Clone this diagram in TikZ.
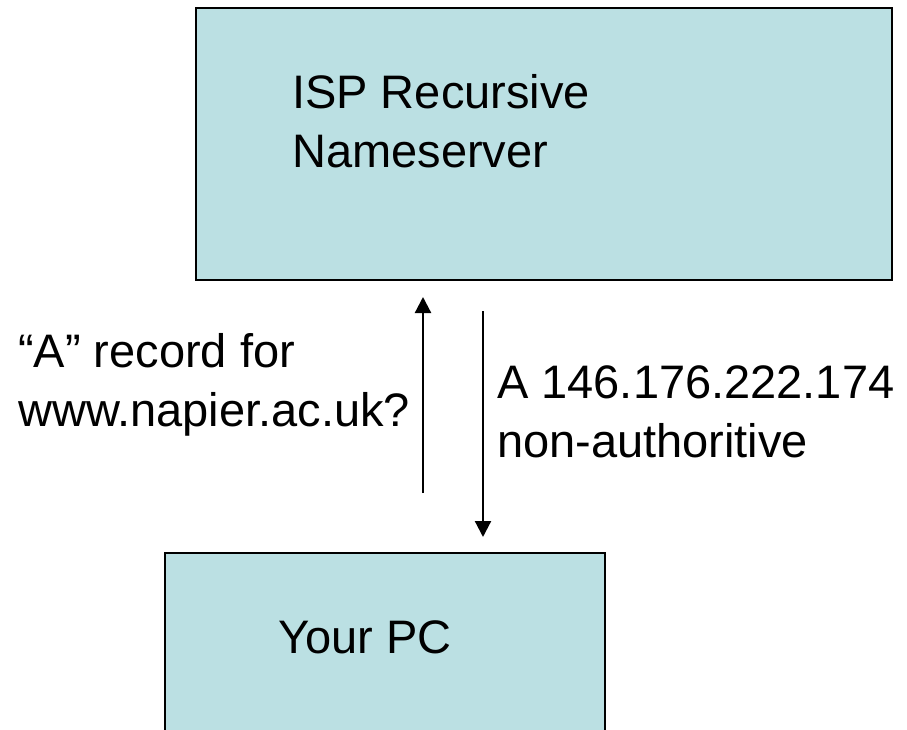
\documentclass[tikz,border=0pt]{standalone}
\usepackage{fontspec}
\setmainfont{Liberation Sans}
\usetikzlibrary{arrows.meta}
\definecolor{boxfill}{RGB}{187,224,227}
\tikzset{
  x=1pt, y=-1pt,
  box/.style={draw=black, line width=2.5pt, fill=boxfill, inner sep=0pt},
  txt/.style={inner sep=0pt, align=left, font=\fontsize{47}{59}\selectfont},
  msg/.style={line width=2.2pt, -{Triangle[length=16pt,width=16pt]}}
}
\begin{document}
\begin{tikzpicture}
  \useasboundingbox (0,0) rectangle (907,730);
  \clip (0,0) rectangle (907,730);
  \fill[white] (0,0) rectangle (907,730);

  % servers
  \node[box, minimum width=696pt, minimum height=272pt] (isp) at (544,144) {};
  % base anchor of a two-line node sits on its last line
  \node[txt, anchor=base west] (isptext) at (292,168) {ISP Recursive\\Nameserver};

  \node[box, minimum width=440pt, minimum height=200pt] (pc) at (385,653) {};
  \node[txt, anchor=base west] (pctext) at (278,653) {Your PC};

  % query and answer
  \coordinate (qstart) at (423,493);
  \coordinate (qend)   at (423,297);
  \coordinate (astart) at (483,311);
  \coordinate (aend)   at (483,537);
  \draw[msg] (qstart) -- (qend);
  \draw[msg] (astart) -- (aend);

  \node[txt, anchor=base west] (query) at (18,426) {“A” record for\\www.napier.ac.uk?};
  \node[txt, anchor=base west] (answer) at (497,457) {A 146.176.222.174\\non-authoritive};
\end{tikzpicture}
\end{document}
